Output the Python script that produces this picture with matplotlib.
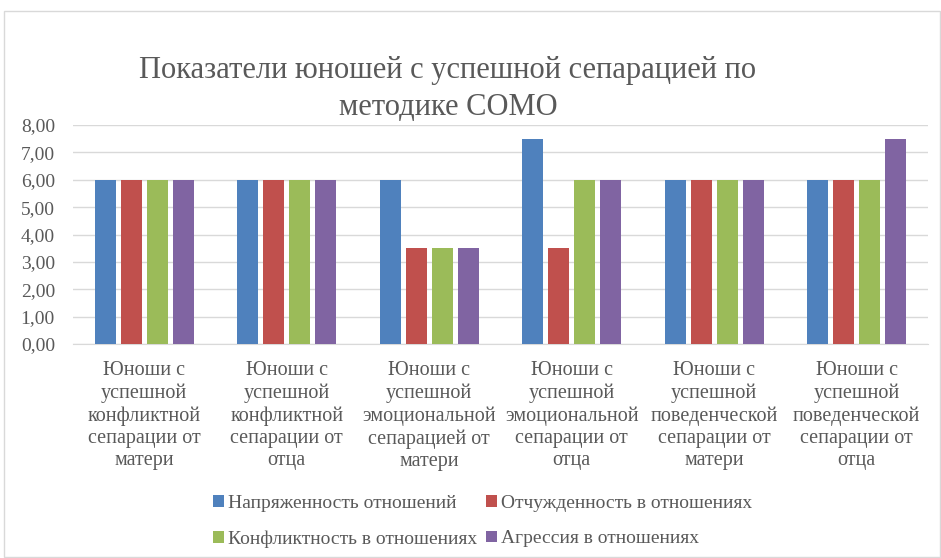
import numpy as np
import matplotlib.pyplot as plt
from matplotlib.patches import Rectangle

plt.rcParams['font.family'] = ['Liberation Serif', 'DejaVu Serif']

categories = [
    'Юноши с\nуспешной\nконфликтной\nсепарации от\nматери',
    'Юноши с\nуспешной\nконфликтной\nсепарации от\nотца',
    'Юноши с\nуспешной\nэмоциональной\nсепарацией от\nматери',
    'Юноши с\nуспешной\nэмоциональной\nсепарации от\nотца',
    'Юноши с\nуспешной\nповеденческой\nсепарации от\nматери',
    'Юноши с\nуспешной\nповеденческой\nсепарации от\nотца',
]
series_names = ['Напряженность отношений', 'Отчужденность в отношениях',
                'Конфликтность в отношениях', 'Агрессия в отношениях']
tension = [6, 6, 6, 7.5, 6, 6]
alienation = [6, 6, 3.5, 3.5, 6, 6]
conflict = [6, 6, 3.5, 6, 6, 6]
aggression = [6, 6, 3.5, 6, 6, 7.5]
yticks = [0, 1, 2, 3, 4, 5, 6, 7, 8]

colors = ['#4F81BD', '#C0504D', '#9BBB59', '#8064A2']
text_color = '#595959'

fig = plt.figure(figsize=(9.41, 5.58), dpi=100)
fig.patches.append(Rectangle((4 / 941, 0.002), 0.995, 1 - 12 / 558, transform=fig.transFigure,
                             fill=False, edgecolor='#d9d9d9', linewidth=1))

ax = fig.add_axes([73 / 941, 1 - 344 / 558, (928 - 73) / 941, (344 - 125) / 558])

x = np.arange(len(categories))
step = 0.182
width = 0.147
bars = []
for i, (vals, name) in enumerate(zip([tension, alienation, conflict, aggression], series_names)):
    bars.append(ax.bar(x + (i - 1.5) * step, vals, width, color=colors[i], label=name, zorder=3))

ax.set_xlim(-0.5, len(categories) - 0.5)
ax.set_ylim(0, 8)
ax.set_yticks(yticks)
ax.set_yticklabels([f'{v:.2f}'.replace('.', ',') for v in yticks], fontsize=14, color=text_color)
ax.set_xticks(x)
ax.set_xticklabels(categories, fontsize=14.5, color=text_color, linespacing=1.24)
ax.tick_params(axis='both', length=0)
ax.tick_params(axis='x', pad=12)
ax.tick_params(axis='y', pad=13)
ax.grid(axis='y', color='#d9d9d9', linewidth=1, zorder=0)
for side in ['top', 'right', 'left']:
    ax.spines[side].set_visible(False)
ax.spines['bottom'].set_color('#d9d9d9')

fig.text(448 / 941, 1 - 89 / 558, 'Показатели юношей с успешной сепарацией по\nметодике СОМО',
         ha='center', va='center', fontsize=22, color=text_color, linespacing=1.35)

# Excel fills the legend row by row
order = [0, 2, 1, 3]
fig.legend([bars[i] for i in order], [series_names[i] for i in order],
           loc='upper left', bbox_to_anchor=(213 / 941, 1 - 495 / 558), ncol=2, frameon=False,
           fontsize=14, labelcolor=text_color, handlelength=0.55, handleheight=0.55,
           handletextpad=0.2, columnspacing=0.5, labelspacing=0.95,
           borderpad=0, borderaxespad=0)

fig.savefig('out.png', dpi=100)
